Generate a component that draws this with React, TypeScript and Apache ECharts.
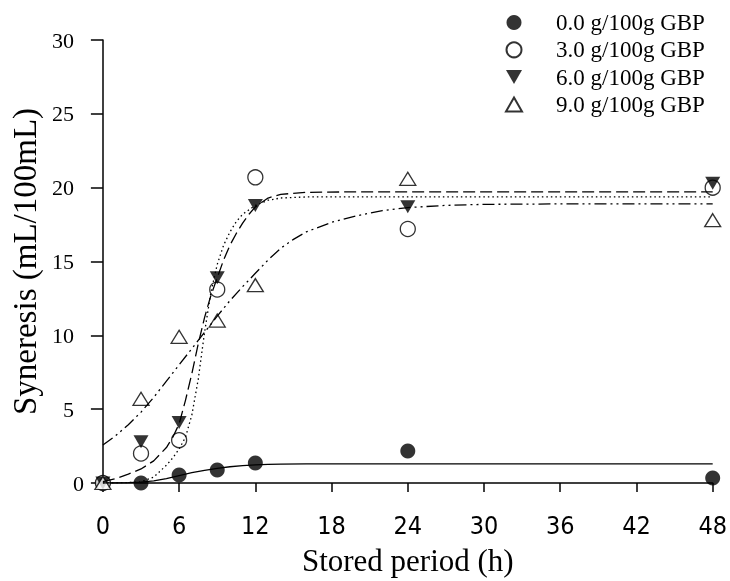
import React, { useEffect, useRef } from 'react';
import * as echarts from 'echarts';

// Measured points (stored period in hours, syneresis mL/100mL)
const hours = [0, 3, 6, 9, 12, 24, 48];
const gbp0 = [0, 0, 0.54, 0.88, 1.36, 2.17, 0.34];
const gbp3 = [0, 2.0, 2.9, 13.1, 20.7, 17.2, 20.0];
const gbp6 = [0, 2.8, 4.1, 13.9, 18.8, 18.7, 20.3];
const gbp9 = [0, 5.7, 9.9, 11.0, 13.4, 20.6, 17.8];

// Fitted curves
const fit0X = [0, 2, 3, 4, 5, 6, 7, 8, 9, 10, 11, 12, 13, 14, 16, 48];
const fit0Y = [0, 0.02, 0.06, 0.15, 0.3, 0.5, 0.7, 0.86, 0.99, 1.1, 1.18, 1.23, 1.26, 1.28, 1.29, 1.29];
const fit3X = [0, 2, 3, 4, 5, 5.5, 6, 6.5, 7, 7.5, 8, 8.5, 9, 9.5, 10, 10.5, 11, 12, 13, 14, 16, 48];
const fit3Y = [0, 0.03, 0.08, 0.4, 1.2, 1.7, 2.3, 3.1, 4.6, 7.0, 10.2, 12.9, 14.8, 16.1, 17.0, 17.7, 18.2, 18.8, 19.15, 19.3, 19.37, 19.38];
const fit6X = [0, 1, 2, 3, 4, 5, 5.5, 6, 6.5, 7, 7.5, 8, 8.5, 9, 9.5, 10, 10.5, 11, 11.5, 12, 13, 14, 16, 20, 48];
const fit6Y = [0.1, 0.3, 0.6, 0.95, 1.5, 2.4, 3.1, 4.0, 5.6, 7.4, 9.4, 11.2, 12.7, 13.9, 15.1, 16.1, 16.9, 17.6, 18.2, 18.7, 19.3, 19.55, 19.68, 19.72, 19.72];
const fit9X = [0, 1, 2, 3, 4, 5, 6, 7, 8, 9, 10, 11, 12, 13, 14, 15, 16, 18, 20, 22, 24, 27, 30, 36, 48];
const fit9Y = [2.57, 3.2, 3.95, 4.8, 5.8, 6.9, 8.0, 9.1, 10.2, 11.3, 12.35, 13.3, 14.2, 15.1, 15.9, 16.5, 17.0, 17.65, 18.1, 18.45, 18.65, 18.8, 18.87, 18.9, 18.9];

const seriesNames = ['0.0 g/100g GBP', '3.0 g/100g GBP', '6.0 g/100g GBP', '9.0 g/100g GBP'];
const xTitle = 'Stored period (h)';
const yTitle = 'Syneresis (mL/100mL)';

const SERIF = '"Liberation Serif", "Times New Roman", serif';

const pairs = (xs: number[], ys: number[]) => xs.map((x, i) => [x, ys[i]]);

export default function App() {
  const ref = useRef<HTMLDivElement>(null);
  useEffect(() => {
    const chart = echarts.init(ref.current!, null, { renderer: 'svg' });
    const fitLine = (xs: number[], ys: number[], type: any) => ({
      type: 'line',
      data: pairs(xs, ys),
      symbol: 'none',
      showSymbol: false,
      smooth: false,
      silent: true,
      legendHoverLink: false,
      z: 6,
      lineStyle: { color: '#000', width: 1.3, type },
    });
    const scatter = (name: string, ys: number[], extra: any) => ({
      type: 'scatter',
      name,
      data: pairs(hours, ys),
      clip: false,
      z: 3,
      ...extra,
    });
    chart.setOption({
      animation: false,
      grid: { left: 99, right: 13, top: 40, bottom: 98, containLabel: false },
      legend: {
        data: [
          { name: seriesNames[0], icon: 'circle' },
          { name: seriesNames[1], icon: 'circle' },
          { name: seriesNames[2], icon: 'path://M0,0L16,0L8,14Z' },
          { name: seriesNames[3], icon: 'path://M8,0L16,14L0,14Z' },
        ],
        orient: 'vertical',
        left: 505,
        top: 11,
        padding: 0,
        itemWidth: 16,
        itemHeight: 15,
        itemGap: 4.3,
        selectedMode: false,
        textStyle: {
          fontFamily: SERIF,
          fontSize: 23,
          color: '#000',
          lineHeight: 23,
          padding: [0, 0, 0, 29],
        },
      },
      xAxis: {
        type: 'value',
        min: 0,
        max: 48,
        interval: 6,
        splitLine: { show: false },
        axisLine: { lineStyle: { color: '#000', width: 1.5 } },
        axisTick: { show: true, length: 9, lineStyle: { color: '#000', width: 1.5 } },
        axisLabel: {
          fontFamily: '"Liberation Sans Narrow", "DejaVu Sans Condensed", sans-serif',
          fontSize: 25,
          color: '#000',
          margin: 30,
        },
        name: xTitle,
        nameLocation: 'middle',
        nameGap: 62,
        nameTextStyle: { fontFamily: SERIF, fontSize: 31, color: '#000' },
      },
      yAxis: {
        type: 'value',
        min: 0,
        max: 30,
        interval: 5,
        splitLine: { show: false },
        axisLine: { lineStyle: { color: '#000', width: 1.5 } },
        axisTick: { show: true, length: 12, lineStyle: { color: '#000', width: 1.5 } },
        axisLabel: {
          fontFamily: SERIF,
          fontSize: 22,
          color: '#000',
          margin: 19,
          formatter: (v: number) => (v === 0 ? '{z|0}' : '{n|' + v + '}'),
          rich: {
            z: { fontFamily: SERIF, fontSize: 22, color: '#000' },
            n: { fontFamily: SERIF, fontSize: 22, color: '#000', padding: [0, 10, 0, 0] },
          },
        },
        name: yTitle,
        nameLocation: 'middle',
        nameGap: 56,
        nameRotate: 90,
        nameTextStyle: { fontFamily: SERIF, fontSize: 33, color: '#000' },
      },
      series: [
        fitLine(fit0X, fit0Y, 'solid'),
        fitLine(fit3X, fit3Y, [1.5, 3]),
        fitLine(fit6X, fit6Y, [12, 5]),
        fitLine(fit9X, fit9Y, [12, 4, 2, 4, 2, 4]),
        scatter(seriesNames[0], gbp0, {
          symbol: 'circle',
          symbolSize: 15,
          itemStyle: { color: '#000' },
        }),
        scatter(seriesNames[1], gbp3, {
          symbol: 'circle',
          symbolSize: 15,
          itemStyle: { color: '#fff', borderColor: '#000', borderWidth: 1.3 },
        }),
        scatter(seriesNames[2], gbp6, {
          symbol: 'triangle',
          symbolRotate: 180,
          symbolSize: [15, 13],
          itemStyle: { color: '#000' },
        }),
        scatter(seriesNames[3], gbp9, {
          symbol: 'triangle',
          symbolSize: [16, 13],
          itemStyle: { color: '#fff', borderColor: '#000', borderWidth: 1.3 },
        }),
      ],
    });
    return () => chart.dispose();
  }, []);
  return <div ref={ref} style={{ position: 'fixed', left: 0, top: 0, width: 730, height: 581 }} />;
}
